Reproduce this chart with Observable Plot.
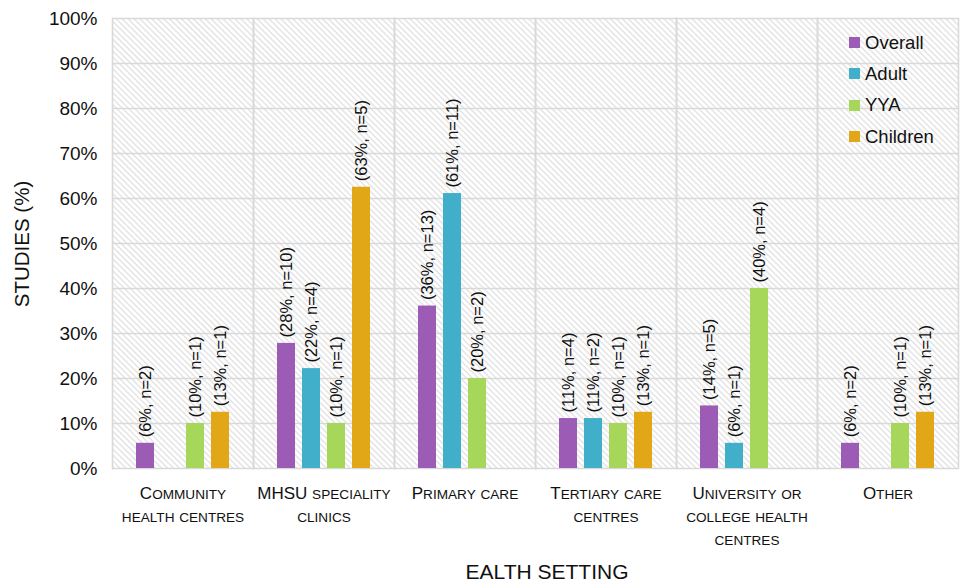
<!DOCTYPE html>
<html><head><meta charset="utf-8">
<script src="https://cdn.jsdelivr.net/npm/d3@7"></script>
<script src="https://cdn.jsdelivr.net/npm/@observablehq/plot@0.6"></script>
<style>
body{margin:0;background:#fff;font-family:"Liberation Sans",Arial,sans-serif;}
#wrap{position:relative;width:961px;height:583px;}
#legend{position:absolute;left:849px;top:27px;font-size:18.5px;color:#111;}
#legend .row{display:flex;align-items:center;height:31.3px;}
#legend .sw{width:11px;height:11px;margin-right:5px;}
#ylab{position:absolute;left:22px;top:244px;transform:translate(-50%,-50%) rotate(-90deg);font-size:20.5px;color:#111;white-space:nowrap;}
#xlab{position:absolute;left:547px;top:572px;transform:translate(-50%,-50%);font-size:21px;color:#111;white-space:nowrap;}
</style></head>
<body><div id="wrap"><div id="legend"></div><div id="ylab"></div><div id="xlab"></div></div>
<script>
const categories = ["Community\nhealth centres","MHSU speciality\nclinics","Primary care","Tertiary care\ncentres","University or\ncollege health\ncentres","Other"];
const series = ["Overall","Adult","YYA","Children"];
const colors = ["#9c5bb5","#41afc9","#a6d75b","#e1a716"];
const overall = [5.6, 27.8, 36.1, 11.1, 13.9, 5.6];
const overallN = [2, 10, 13, 4, 5, 2];
const adult = [null, 22.2, 61.1, 11.1, 5.6, null];
const adultN = [null, 4, 11, 2, 1, null];
const yya = [10, 10, 20, 10, 40, 10];
const yyaN = [1, 1, 2, 1, 4, 1];
const children = [12.5, 62.5, null, 12.5, null, 12.5];
const childrenN = [1, 5, null, 1, null, 1];
const yTicks = [0,10,20,30,40,50,60,70,80,90,100];
const yTitle = "STUDIES (%)";
const xTitle = "EALTH SETTING";

const vals = [overall, adult, yya, children];
const ns = [overallN, adultN, yyaN, childrenN];
const rows = [];
categories.forEach((c, i) => series.forEach((s, j) => {
  const v = vals[j][i];
  if (v != null) rows.push({cat: c, series: s, value: v, label: `(${Math.round(v)}%, n=${ns[j][i]})`});
}));

const chart = Plot.plot({
  width: 961, height: 583,
  marginLeft: 111, marginRight: 3, marginTop: 18, marginBottom: 115,
  style: {fontFamily: '"Liberation Sans", Arial, sans-serif', background: "transparent"},
  fx: {domain: categories, padding: 0, label: null},
  x: {domain: series, paddingInner: 0.28, paddingOuter: 0.96, axis: null},
  y: {domain: [0, 100], label: null},
  color: {domain: series, range: colors},
  marks: [
    Plot.frame({fill: "url(#hatch)", stroke: null}),
    Plot.gridY(yTicks, {stroke: "#d9d9d9", strokeOpacity: 1, strokeWidth: 1.6}),
    Plot.frame({stroke: "#d9d9d9", strokeWidth: 1.6, anchor: "left"}),
    Plot.frame({stroke: "#d9d9d9", strokeWidth: 1.6, anchor: "right"}),
    Plot.barY(rows, {fx: "cat", x: "series", y: "value", fill: "series"}),
    Plot.text(rows, {fx: "cat", x: "series", y: "value", text: "label", rotate: -90, textAnchor: "start", lineAnchor: "middle", dy: -6, fontSize: 16.5, fill: "#111"}),
    Plot.axisY(yTicks, {tickSize: 0, tickPadding: 15, fontSize: 19, tickFormat: d => d + "%", label: null, color: "#111"}),
    Plot.axisFx({anchor: "bottom", tickSize: 0, tickPadding: 14, fontSize: 17, lineHeight: 1.35, label: null, color: "#111"})
  ]
});

// hatch pattern
const defs = d3.select(chart).insert("defs", ":first-child");
const pat = defs.append("pattern").attr("id", "hatch").attr("patternUnits", "userSpaceOnUse")
  .attr("width", 4.2).attr("height", 4.2).attr("patternTransform", "rotate(-45)");
pat.append("rect").attr("width", 4.2).attr("height", 4.2).attr("fill", "#fff");
pat.append("line").attr("x1", 1).attr("y1", 0).attr("x2", 1).attr("y2", 4.2).attr("stroke", "#e2e2e2").attr("stroke-width", 1.4);

// manual small caps for category labels
function smallCaps(node) {
  const str = node.textContent;
  node.textContent = "";
  const runs = str.match(/[a-z]+|[^a-z]+/g) || [];
  runs.forEach(r => {
    const t = document.createElementNS("http://www.w3.org/2000/svg", "tspan");
    if (/[a-z]/.test(r)) { t.textContent = r.toUpperCase(); t.setAttribute("font-size", "0.8em"); }
    else t.textContent = r;
    node.appendChild(t);
  });
}
d3.select(chart).selectAll("[aria-label='fx-axis tick label'] text").each(function() {
  const tspans = this.querySelectorAll(":scope > tspan");
  if (tspans.length) tspans.forEach(smallCaps); else smallCaps(this);
});

document.getElementById("wrap").prepend(chart);
document.getElementById("ylab").textContent = yTitle;
document.getElementById("xlab").textContent = xTitle;
const leg = document.getElementById("legend");
series.forEach((s, i) => {
  const r = document.createElement("div"); r.className = "row";
  r.innerHTML = `<div class="sw" style="background:${colors[i]}"></div><span>${s}</span>`;
  leg.appendChild(r);
});
</script></body></html>
